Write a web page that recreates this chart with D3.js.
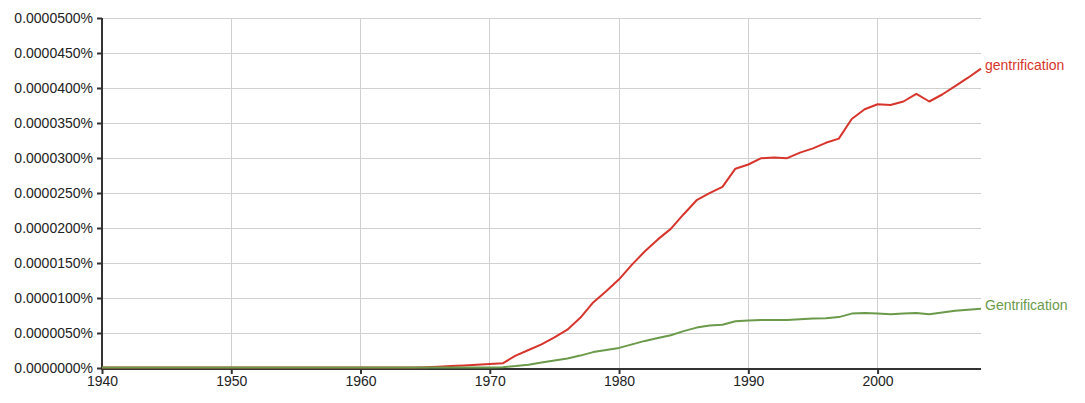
<!DOCTYPE html>
<html><head><meta charset="utf-8">
<script src="https://cdn.jsdelivr.net/npm/d3@7"></script>
<style>body{margin:0;background:#fff}svg{display:block}text{font-family:"Liberation Sans",Arial,sans-serif}</style>
</head><body>
<script>
// values in percent
const years = d3.range(1940, 2009);
const gentrificationLower = [
 0,0,0,0,0,0,0,0,0,0, // 1940-49
 0,0,0,0,0,0,0,0,0,0, // 1950-59
 0,0,0,0,0,0.03,0.1,0.2,0.3,0.4, // 1960-69
 0.5,0.6,1.7,2.5,3.3,4.3,5.4,7.1,9.3,10.9, // 1970-79
 12.6,14.7,16.6,18.3,19.8,21.9,23.9,24.9,25.8,28.4, // 1980-89
 29.0,29.9,30.0,29.9,30.7,31.3,32.1,32.7,35.5,36.9, // 1990-99
 37.6,37.5,38.0,39.1,38.0,39.0,40.2,41.4,42.7 // 2000-08
].map(v => v * 1e-6);
const gentrificationUpper = [
 0,0,0,0,0,0,0,0,0,0,
 0,0,0,0,0,0,0,0,0,0,
 0,0,0,0,0,0,0,0,0,0,
 0,0.05,0.2,0.4,0.7,1.0,1.3,1.7,2.2,2.5,
 2.8,3.3,3.8,4.2,4.6,5.2,5.7,6.0,6.1,6.6,
 6.7,6.8,6.8,6.8,6.9,7.0,7.05,7.2,7.7,7.8,
 7.7,7.6,7.7,7.8,7.6,7.85,8.1,8.25,8.4
].map(v => v * 1e-6);
const seriesNames = ["gentrification", "Gentrification"];
const seriesColors = ["#d7352c", "#6b9a4b"];
const yTicks = d3.range(0, 0.0000500001, 0.000005);
const xTicks = [1940, 1950, 1960, 1970, 1980, 1990, 2000];

const W = 1085, H = 403;
const m = {left: 102, right: 104, top: 18, bottom: 35};
const svg = d3.select("body").append("svg").attr("width", W).attr("height", H);
const x = d3.scaleLinear().domain([1940, 2008]).range([m.left, W - m.right]);
const y = d3.scaleLinear().domain([0, 0.00005]).range([H - m.bottom, m.top]);

// grid
svg.append("g").selectAll("line").data(yTicks.slice(1)).join("line")
  .attr("x1", m.left).attr("x2", x(2008)).attr("y1", d => y(d)).attr("y2", d => y(d))
  .attr("stroke", "#d0d0d0").attr("stroke-width", 1).attr("shape-rendering", "crispEdges");
svg.append("g").selectAll("line").data(xTicks.slice(1)).join("line")
  .attr("x1", d => x(d)).attr("x2", d => x(d)).attr("y1", y(0.00005)).attr("y2", y(0))
  .attr("stroke", "#d0d0d0").attr("stroke-width", 1).attr("shape-rendering", "crispEdges");

// axes
const fmt = d => d3.format(".7f")(d * 1) + "%";
const yAxis = svg.append("g").attr("transform", `translate(${m.left},0)`)
  .call(d3.axisLeft(y).tickValues(yTicks).tickFormat(fmt).tickSize(5).tickPadding(4));
const xAxis = svg.append("g").attr("transform", `translate(0,${y(0) + 1})`)
  .call(d3.axisBottom(x).tickValues(xTicks).tickFormat(d3.format("d")).tickSize(5).tickPadding(2));
[yAxis, xAxis].forEach(a => {
  a.select(".domain").attr("stroke", "#333").attr("stroke-width", 2);
  a.selectAll(".tick line").attr("stroke", "#333").attr("stroke-width", 2);
  a.selectAll("text").attr("font-size", 14).attr("fill", "#222").attr("font-family", "Liberation Sans, Arial, sans-serif");
});
xAxis.select(".domain").attr("d", `M${m.left},0H${x(2008)}`);
yAxis.select(".domain").attr("d", `M0,${y(0.00005)}V${y(0) + 2}`);

// lines
const data = [gentrificationLower, gentrificationUpper];
const line = d3.line().x((d, i) => x(years[i])).y(d => y(d) - 0.5);
data.forEach((s, k) => {
  svg.append("path").datum(s).attr("d", line).attr("fill", "none")
    .attr("stroke", seriesColors[k]).attr("stroke-width", 2).attr("stroke-linejoin", "round");
  svg.append("text").attr("x", x(2008) + 4).attr("y", y(s[s.length - 1]) - 4)
    .attr("dy", "0.35em").attr("font-size", 14).attr("fill", seriesColors[k]).text(seriesNames[k]);
});
</script>
</body></html>
